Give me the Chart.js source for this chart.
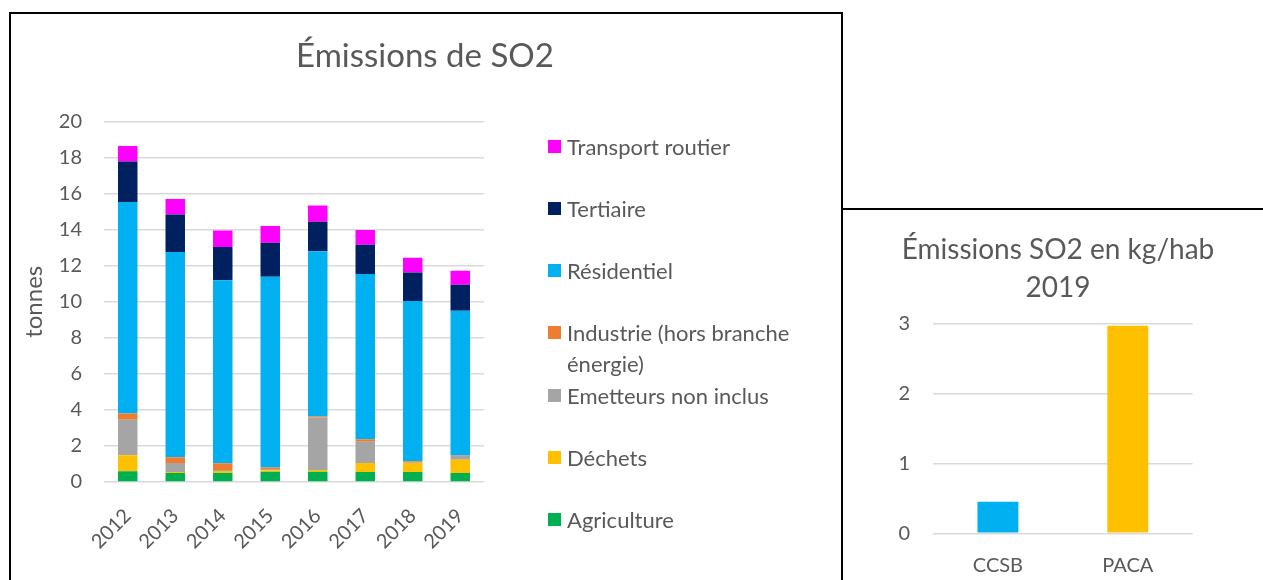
<!DOCTYPE html>
<html>
<head>
<meta charset="utf-8">
<script src="https://cdn.jsdelivr.net/npm/chart.js@4.4.1/dist/chart.umd.min.js"></script>
<style>
  html, body { margin: 0; padding: 0; background: #fff; width: 1263px; height: 580px; overflow: hidden; }
  .box { position: absolute; border: 2px solid #000; box-sizing: border-box; }
  #c1wrap { position: absolute; left: 12px; top: 14px; width: 826px; height: 566px; }
  #c2wrap { position: absolute; left: 843px; top: 210px; width: 430px; height: 370px; }
  #legend { position: absolute; left: 548px; top: 0; font-family: Lato, "Open Sans", sans-serif; font-size: 22px; color: #595959; }
  .li { position: absolute; left: 0; width: 260px; line-height: 31px; }
  .sw { position: absolute; left: 0; top: 9px; width: 13px; height: 13px; }
  .lt { position: absolute; left: 19px; width: 240px; white-space: normal; }
</style>
</head>
<body>
<div class="box" style="left:9px; top:12px; width:834px; height:600px;"></div>
<div class="box" style="left:841px; top:208px; width:440px; height:400px;"></div>
<div id="c1wrap"><canvas id="c1"></canvas></div>
<div id="c2wrap"><canvas id="c2"></canvas></div>
<div id="legend"></div>
<script>
// ---- Data: Émissions de SO2 (tonnes) ----
const years = ['2012', '2013', '2014', '2015', '2016', '2017', '2018', '2019'];
const agriculture = [0.59, 0.50, 0.50, 0.57, 0.57, 0.56, 0.56, 0.50];
const dechets     = [0.89, 0.06, 0.11, 0.08, 0.10, 0.50, 0.50, 0.74];
const emetteurs   = [1.97, 0.50, 0.06, 0.03, 2.92, 1.18, 0.02, 0.20];
const industrie   = [0.35, 0.31, 0.37, 0.12, 0.06, 0.13, 0.07, 0.03];
const residentiel = [11.74, 11.39, 10.15, 10.59, 9.15, 9.17, 8.89, 8.03];
const tertiaire   = [2.24, 2.09, 1.85, 1.89, 1.64, 1.63, 1.59, 1.44];
const transport   = [0.87, 0.85, 0.92, 0.92, 0.91, 0.81, 0.82, 0.78];
const leftTicks = { min: 0, max: 20, step: 2 };

// ---- Data: Émissions SO2 en kg/hab 2019 ----
const zones = ['CCSB', 'PACA'];
const kgHab = [0.45, 2.97];
const rightTicks = { min: 0, max: 3, step: 1 };

const seriesNames = ['Agriculture', 'Déchets', 'Emetteurs non inclus', 'Industrie (hors branche énergie)', 'Résidentiel', 'Tertiaire', 'Transport routier'];
const seriesColors = ['#00B050', '#FFC000', '#A5A5A5', '#ED7D31', '#00B0F0', '#002060', '#FF00FF'];
const seriesData = [agriculture, dechets, emetteurs, industrie, residentiel, tertiaire, transport];
const zoneColors = ['#00B0F0', '#FFC000'];

const FONT = 'Lato, "Open Sans", sans-serif';
const TXT = '#595959';
const GRID = '#D9D9D9';

const datasets1 = seriesNames.map((n, i) => ({
  label: n,
  data: seriesData[i],
  backgroundColor: seriesColors[i],
  borderWidth: 0,
  categoryPercentage: 1.0,
  barPercentage: 0.41
}));

new Chart(document.getElementById('c1'), {
  type: 'bar',
  data: { labels: years, datasets: datasets1 },
  options: {
    responsive: true, maintainAspectRatio: false, animation: false,
    layout: { padding: 0 },
    plugins: {
      legend: { display: false },
      tooltip: { enabled: false },
      title: {
        display: true, text: 'Émissions de SO2', color: TXT,
        font: { family: FONT, size: 33, weight: 'normal', lineHeight: 1.2 },
        padding: { top: 23, bottom: 45 }
      }
    },
    scales: {
      x: {
        stacked: true,
        grid: { display: false, drawTicks: false },
        border: { display: false },
        ticks: { color: TXT, font: { family: FONT, size: 20 }, minRotation: 45, maxRotation: 45, padding: 22 },
        afterFit: (s) => { s.height = 98; }
      },
      y: {
        stacked: true,
        min: leftTicks.min, max: leftTicks.max,
        grid: { color: GRID, lineWidth: 1.5, drawTicks: false },
        border: { display: false },
        ticks: { stepSize: leftTicks.step, color: TXT, font: { family: FONT, size: 20 }, padding: 22 },
        title: { display: true, text: 'tonnes', color: TXT, font: { family: FONT, size: 24 }, padding: { top: 8, bottom: 0 } },
        afterFit: (s) => { s.width = 92; }
      },
      spacer: {
        type: 'linear', position: 'right', display: true,
        grid: { display: false, drawTicks: false }, border: { display: false },
        ticks: { display: false },
        afterFit: (s) => { s.width = 354; }
      }
    }
  }
});

new Chart(document.getElementById('c2'), {
  type: 'bar',
  data: { labels: zones, datasets: [{ label: 'kg/hab', data: kgHab, backgroundColor: zoneColors, borderWidth: 0, categoryPercentage: 1.0, barPercentage: 0.315 }] },
  options: {
    responsive: true, maintainAspectRatio: false, animation: false,
    layout: { padding: 0 },
    plugins: {
      legend: { display: false },
      tooltip: { enabled: false },
      title: {
        display: true, text: ['Émissions SO2 en kg/hab', '2019'], color: TXT,
        font: { family: FONT, size: 28, weight: 'normal', lineHeight: 1.36 },
        padding: { top: 21, bottom: 16.5 }
      }
    },
    scales: {
      x: {
        grid: { display: false, drawTicks: false },
        border: { display: false },
        ticks: { color: TXT, font: { family: FONT, size: 20 }, padding: 20 },
        afterFit: (s) => { s.height = 46.7; }
      },
      y: {
        min: rightTicks.min, max: rightTicks.max,
        grid: { color: GRID, lineWidth: 1.5, drawTicks: false },
        border: { display: false },
        ticks: { stepSize: rightTicks.step, color: TXT, font: { family: FONT, size: 20 }, padding: 23 },
        afterFit: (s) => { s.width = 90; }
      },
      spacer: {
        type: 'linear', position: 'right', display: true,
        grid: { display: false, drawTicks: false }, border: { display: false },
        ticks: { display: false },
        afterFit: (s) => { s.width = 80.3; }
      }
    }
  }
});

// HTML legend (reverse order, as in the reference), built from the series arrays
const legend = document.getElementById('legend');
for (let k = 0; k < seriesNames.length; k++) {
  const i = seriesNames.length - 1 - k;
  const item = document.createElement('div');
  item.className = 'li';
  item.style.top = (146 - 15.5 + k * 62.33) + 'px';
  const sw = document.createElement('div');
  sw.className = 'sw';
  sw.style.background = seriesColors[i];
  const t = document.createElement('div');
  t.className = 'lt';
  t.textContent = seriesNames[i];
  item.appendChild(sw); item.appendChild(t);
  legend.appendChild(item);
}
</script>
</body>
</html>
